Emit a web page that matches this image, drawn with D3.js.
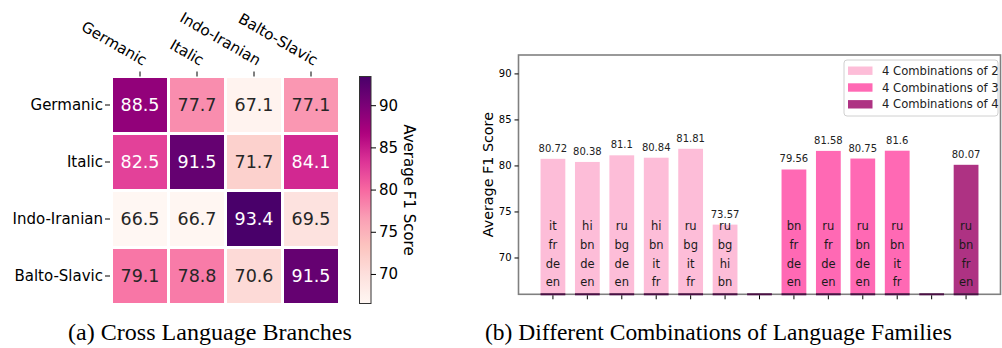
<!DOCTYPE html>
<html>
<head>
<meta charset="utf-8">
<script src="https://cdn.jsdelivr.net/npm/d3@7"></script>
<style>
  html, body { margin: 0; padding: 0; background: #fff; }
  svg { display: block; }
  text { font-family: "DejaVu Sans", sans-serif; }
  .cap { font-family: "Liberation Serif", "Times New Roman", serif; }
</style>
</head>
<body>
<svg id="chart" width="1002" height="348"></svg>
<script>
// ---------- DATA ----------
const branches = ["Germanic", "Italic", "Indo-Iranian", "Balto-Slavic"];
const rowGermanic    = [88.5, 77.7, 67.1, 77.1];
const rowItalic      = [82.5, 91.5, 71.7, 84.1];
const rowIndoIranian = [66.5, 66.7, 93.4, 69.5];
const rowBaltoSlavic = [79.1, 78.8, 70.6, 91.5];
const heatRows = [rowGermanic, rowItalic, rowIndoIranian, rowBaltoSlavic];
const colorbarTicks = [70, 75, 80, 85, 90];
const colorbarLabel = "Average F1 Score";

const comboValues = [80.72, 80.38, 81.1, 80.84, 81.81, 73.57, null, 79.56, 81.58, 80.75, 81.6, null, 80.07];
const comboLangs = [
  ["it","fr","de","en"], ["hi","bn","de","en"], ["ru","bg","de","en"], ["hi","bn","it","fr"],
  ["ru","bg","it","fr"], ["ru","bg","hi","bn"], [], ["bn","fr","de","en"], ["ru","fr","de","en"],
  ["ru","bn","de","en"], ["ru","bn","it","fr"], [], ["ru","bn","fr","en"]
];
const comboGroup = [0,0,0,0,0,0,-1,1,1,1,1,-1,2];
const groupNames = ["4 Combinations of 2", "4 Combinations of 3", "4 Combinations of 4"];
const barYTicks = [70, 75, 80, 85, 90];
const barYLabel = "Average F1 Score";
const captionA = "(a) Cross Language Branches";
const captionB = "(b) Different Combinations of Language Families";

// ---------- STYLE ----------
const rdpu = ["#fff7f3","#fde0dd","#fcc5c0","#fa9fb5","#f768a1","#dd3497","#ae017e","#7a0177","#49006a"];
const groupColors = ["#fdbdd8", "#ff69b4", "#ae3283"];
const gapColor = "#4a0f44";

const svg = d3.select("#chart");

// ---------- HEATMAP ----------
const allVals = heatRows.flat();
const vmin = d3.min(allVals), vmax = d3.max(allVals);
const color = d3.scaleLinear()
  .domain(rdpu.map((_, i) => vmin + (vmax - vmin) * i / (rdpu.length - 1)))
  .range(rdpu).interpolate(d3.interpolateRgb).clamp(true);

const hx = d3.scaleBand().domain(branches).range([111.5, 339.5]);
const hy = d3.scaleBand().domain(branches).range([76.5, 304.5]);

const hm = svg.append("g");
heatRows.forEach((row, ri) => {
  row.forEach((v, ci) => {
    hm.append("rect")
      .attr("x", hx(branches[ci])).attr("y", hy(branches[ri]))
      .attr("width", hx.bandwidth()).attr("height", hy.bandwidth())
      .attr("fill", color(v)).attr("stroke", "#fff").attr("stroke-width", 3);
    hm.append("text")
      .attr("x", hx(branches[ci]) + hx.bandwidth() / 2)
      .attr("y", hy(branches[ri]) + hy.bandwidth() / 2)
      .attr("text-anchor", "middle").attr("dominant-baseline", "central")
      .attr("font-size", 17.5)
      .attr("fill", v > 80 ? "#ffffff" : "#262626")
      .text(v.toFixed(1));
  });
});
// row labels + ticks
branches.forEach(b => {
  const cy = hy(b) + hy.bandwidth() / 2;
  hm.append("line").attr("x1", 105).attr("x2", 110).attr("y1", cy).attr("y2", cy)
    .attr("stroke", "#000").attr("stroke-width", 1);
  hm.append("text").attr("x", 103).attr("y", cy).attr("text-anchor", "end")
    .attr("dominant-baseline", "central").attr("font-size", 15).attr("fill", "#000").text(b);
});
// column labels + ticks (top)
branches.forEach(b => {
  const cx = hx(b) + hx.bandwidth() / 2;
  hm.append("line").attr("x1", cx).attr("x2", cx).attr("y1", 71.5).attr("y2", 76.5)
    .attr("stroke", "#000").attr("stroke-width", 1);
  hm.append("text").attr("transform", `translate(${cx + 3},${66}) rotate(30)`)
    .attr("text-anchor", "end").attr("font-size", 15).attr("fill", "#000").text(b);
});

// colorbar
const cbX = 359.5, cbW = 11.5;
const cbScale = d3.scaleLinear().domain([vmin, vmax]).range([303.5, 76.5]);
const defs = svg.append("defs");
const grad = defs.append("linearGradient").attr("id", "cbgrad")
  .attr("x1", 0).attr("y1", 1).attr("x2", 0).attr("y2", 0);
d3.range(0, 1.0001, 0.02).forEach(t => {
  grad.append("stop").attr("offset", t).attr("stop-color", color(vmin + t * (vmax - vmin)));
});
svg.append("rect").attr("x", cbX).attr("y", cbScale(vmax)).attr("width", cbW)
  .attr("height", cbScale(vmin) - cbScale(vmax)).attr("fill", "url(#cbgrad)")
  .attr("stroke", "#333").attr("stroke-width", 1);
const cbAxis = d3.axisRight(cbScale).tickValues(colorbarTicks).tickSize(5).tickPadding(3);
const cbG = svg.append("g").attr("transform", `translate(${cbX + cbW},0)`).call(cbAxis);
cbG.select(".domain").remove();
cbG.selectAll("text").attr("font-size", 15).attr("font-family", "DejaVu Sans").attr("fill", "#000");
svg.append("text").attr("transform", `translate(${404},${190}) rotate(90)`)
  .attr("text-anchor", "middle").attr("font-size", 15).attr("fill", "#000").text(colorbarLabel);

// ---------- BAR CHART ----------
const bx = d3.scaleLinear().domain([-1, comboValues.length]).range([518.5, 1000.5]);
const by = d3.scaleLinear().domain([66, 92]).range([294.3, 55]);
const barW = (bx(1) - bx(0)) * 0.72;
const bc = svg.append("g");

comboValues.forEach((v, i) => {
  const cx = bx(i);
  if (v != null) {
    bc.append("rect").attr("x", cx - barW / 2).attr("y", by(v)).attr("width", barW)
      .attr("height", by(66) - by(v)).attr("fill", groupColors[comboGroup[i]]);
    bc.append("text").attr("x", cx).attr("y", by(v) - 7).attr("text-anchor", "middle")
      .attr("font-size", 10).attr("fill", "#222").text(String(v));
    const langs = comboLangs[i];
    langs.forEach((l, k) => {
      bc.append("text").attr("x", cx).attr("y", by(67) + 1.2 - (langs.length - 1 - k) * 18.6)
        .attr("text-anchor", "middle").attr("font-size", 11.5).attr("fill", "#1a1a1a").text(l);
    });
  }
});
// frame
const frame = bc.append("g").attr("fill", "none").attr("stroke", "#808080").attr("stroke-width", 1.6);
frame.append("rect").attr("x", bx(-1)).attr("y", by(92)).attr("width", bx(comboValues.length) - bx(-1))
  .attr("height", by(66) - by(92));
// dark baseline segments at each position
comboValues.forEach((v, i) => {
  bc.append("rect").attr("x", bx(i) - barW / 2).attr("y", by(66) - 1).attr("width", barW)
    .attr("height", 2).attr("fill", gapColor);
  bc.append("line").attr("x1", bx(i)).attr("x2", bx(i)).attr("y1", by(66) + 1).attr("y2", by(66) + 5)
    .attr("stroke", "#000").attr("stroke-width", 1);
});
const yAxis = d3.axisLeft(by).tickValues(barYTicks).tickSize(4).tickPadding(3);
const yG = bc.append("g").attr("transform", `translate(${bx(-1)},0)`).call(yAxis);
yG.select(".domain").remove();
yG.selectAll("text").attr("font-size", 10).attr("font-family", "DejaVu Sans").attr("fill", "#000");
bc.append("text").attr("transform", `translate(${493},${(by(92) + by(66)) / 2}) rotate(-90)`)
  .attr("text-anchor", "middle").attr("font-size", 14.3).attr("fill", "#000").text(barYLabel);

// legend
const lg = bc.append("g");
lg.append("rect").attr("x", 844).attr("y", 60).attr("width", 154).attr("height", 56)
  .attr("rx", 3).attr("fill", "#fff").attr("fill-opacity", 0.9).attr("stroke", "#d0d0d0").attr("stroke-width", 1);
groupNames.forEach((n, i) => {
  const cy = 70.7 + i * 16.8;
  lg.append("rect").attr("x", 848).attr("y", cy - 4.2).attr("width", 24.5).attr("height", 8.4)
    .attr("fill", groupColors[i]);
  lg.append("text").attr("x", 882).attr("y", cy).attr("dominant-baseline", "central")
    .attr("font-size", 11.6).attr("fill", "#222").text(n);
});

// captions
function fitCaption(txt, cx, cy, targetW) {
  const t = svg.append("text").attr("class", "cap").attr("x", cx).attr("y", cy)
    .attr("text-anchor", "middle").attr("dominant-baseline", "central")
    .attr("font-size", 20).attr("fill", "#000").text(txt);
  const w = t.node().getComputedTextLength();
  t.attr("font-size", 20 * targetW / w);
}
fitCaption(captionA, 210, 332, 284);
fitCaption(captionB, 718.5, 332, 467);
</script>
</body>
</html>
